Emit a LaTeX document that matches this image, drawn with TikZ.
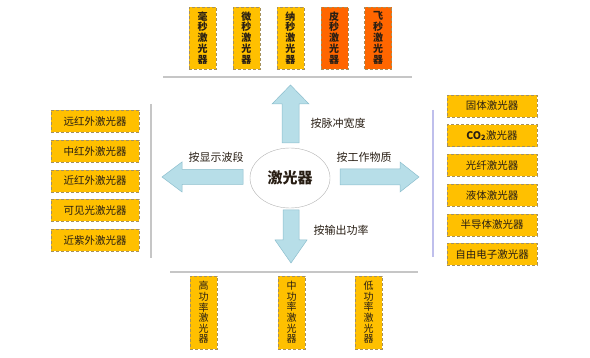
\documentclass[tikz,border=0pt]{standalone}
\usepackage{fontspec}
\setmainfont{Noto Sans CJK SC}
\usetikzlibrary{shapes.geometric, positioning}
\definecolor{boxgold}{RGB}{255,192,0}
\definecolor{boxorange}{RGB}{255,102,0}
\definecolor{arrowblue}{RGB}{183,222,232}
\definecolor{arrowedge}{RGB}{140,190,205}
\definecolor{boxedge}{RGB}{165,145,95}
\definecolor{inkdark}{RGB}{40,30,20}
\tikzstyle{vbox} = [rectangle, minimum width=27pt, minimum height=62pt, inner sep=0pt, align=center,
    draw=boxedge, densely dashed, fill=boxgold, text=inkdark, font=\fontsize{10}{10.9}\selectfont\bfseries]
\tikzstyle{hbox} = [rectangle, minimum width=88pt, minimum height=22pt, inner sep=0pt,
    draw=boxedge, densely dashed, fill=boxgold, text=inkdark, font=\fontsize{10.5}{12}\selectfont]
\tikzstyle{fatarrow} = [fill=arrowblue, draw=arrowedge, line width=0.5pt]
\tikzstyle{bracket} = [draw=gray!45, line width=1.6pt]
\tikzstyle{tag} = [font=\fontsize{11}{13}\selectfont, text=inkdark]

\begin{document}
\begin{tikzpicture}[x=1pt, y=-1pt]
  \useasboundingbox (0,0) rectangle (590,358);

  % pulse width group
  \node (milli) [vbox] at (202.5,38) {毫\\秒\\激\\光\\器};
  \node (micro) [vbox, right=16.5pt of milli] {微\\秒\\激\\光\\器};
  \node (nano)  [vbox, right=16.5pt of micro] {纳\\秒\\激\\光\\器};
  \node (pico)  [vbox, fill=boxorange, right=16.5pt of nano] {皮\\秒\\激\\光\\器};
  \node (femto) [vbox, fill=boxorange, right=16.5pt of pico] {飞\\秒\\激\\光\\器};

  % wavelength group
  \node (farir)   [hbox] at (95,121.5) {远红外激光器};
  \node (midir)   [hbox, below=7.25pt of farir] {中红外激光器};
  \node (nearir)  [hbox, below=7.25pt of midir] {近红外激光器};
  \node (visible) [hbox, below=7.25pt of nearir] {可见光激光器};
  \node (nearuv)  [hbox, below=7.25pt of visible] {近紫外激光器};

  % medium group
  \node (solid)  [hbox, minimum width=90pt] at (492,106) {固体激光器};
  \node (cotwo)  [hbox, minimum width=90pt, below=7.3pt of solid] {\textbf{CO\textsubscript{2}}激光器};
  \node (fiber)  [hbox, minimum width=90pt, below=7.3pt of cotwo] {光纤激光器};
  \node (liquid) [hbox, minimum width=90pt, below=7.3pt of fiber] {液体激光器};
  \node (semi)   [hbox, minimum width=90pt, below=7.3pt of liquid] {半导体激光器};
  \node (fel)    [hbox, minimum width=90pt, below=7.3pt of semi] {自由电子激光器};

  % power group
  \node (high) [vbox, minimum height=73pt, font=\fontsize{10}{10.6}\selectfont] at (203.5,312.5) {高\\功\\率\\激\\光\\器};
  \node (mid)  [vbox, minimum height=73pt, font=\fontsize{10}{10.6}\selectfont] at (291.5,312.5) {中\\功\\率\\激\\光\\器};
  \node (low)  [vbox, minimum height=73pt, font=\fontsize{10}{10.6}\selectfont] at (368.5,312.5) {低\\功\\率\\激\\光\\器};

  % brackets
  \draw[bracket] (163,77) -- (412,77);
  \draw[bracket] (151,104) -- (151,258);
  \draw[bracket, draw=black!30!blue!25] (433,110) -- (433,257);
  \draw[bracket] (170,272) -- (418,272);

  % block arrows
  \draw[fatarrow] (282,143) -- (282,104) -- (272,104) -- (290.5,85) -- (309,104) -- (299,104) -- (299,143) -- cycle;
  \draw[fatarrow] (283,210) -- (283,240) -- (275,240) -- (291,263) -- (307,240) -- (299,240) -- (299,210) -- cycle;
  \draw[fatarrow] (243,169.5) -- (182,169.5) -- (182,162) -- (162,177) -- (182,192) -- (182,184.5) -- (243,184.5) -- cycle;
  \draw[fatarrow] (340,169) -- (400,169) -- (400,162) -- (419,177) -- (400,192) -- (400,185) -- (340,185) -- cycle;

  \node (laser) [ellipse, draw=gray!60, fill=white, minimum width=80pt, minimum height=60pt,
    font=\fontsize{15}{17}\selectfont\bfseries, text=inkdark] at (290,178) {激光器};

  \node (pulse)  [tag] at (338,123) {按脉冲宽度};
  \node (band)   [tag] at (216,157) {按显示波段};
  \node (medium) [tag] at (364,157) {按工作物质};
  \node (power)  [tag] at (341,230) {按输出功率};
\end{tikzpicture}
\end{document}
